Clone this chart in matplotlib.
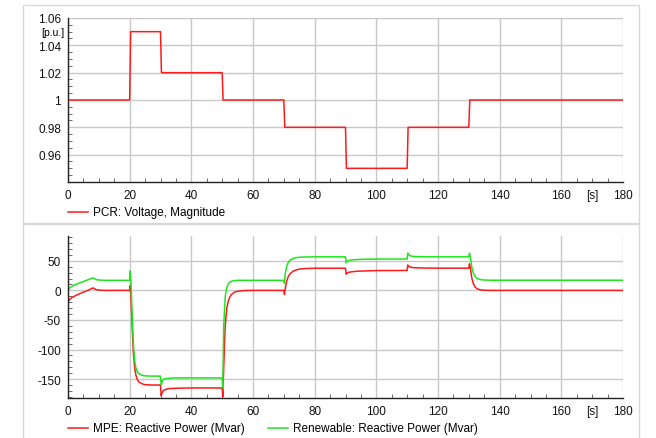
import matplotlib
matplotlib.use('Agg')
import matplotlib.pyplot as plt
from matplotlib.lines import Line2D
from matplotlib.patches import Rectangle
from matplotlib.ticker import MultipleLocator

plt.rcParams['font.family'] = ['Liberation Sans', 'DejaVu Sans']
plt.rcParams['font.size'] = 8.5
plt.rcParams['axes.unicode_minus'] = False

# PCR voltage set-point steps
t_v = [0, 20, 20.3, 30, 30.3, 50, 50.3, 70, 70.3, 90, 90.3, 110, 110.3, 130, 130.3, 180]
v_pcr = [1.0, 1.0, 1.05, 1.05, 1.02, 1.02, 1.0, 1.0, 0.98, 0.98, 0.95, 0.95, 0.98, 0.98, 1.0, 1.0]

# reactive power responses
t_q = [0, 0.3, 1, 2, 3, 4, 5, 6, 7, 8, 8.5, 9, 10, 12, 19.8,
       20, 20.15, 20.4, 20.8, 21.2, 21.6, 22.0, 22.5, 23, 24, 25, 27, 29.8,
       30, 30.2, 30.6, 31, 32, 33, 35, 40, 49.8,
       50, 50.2, 50.5, 51, 51.5, 52, 52.5, 53, 54, 55, 57, 60, 69.8,
       70, 70.2, 70.5, 71, 71.5, 72, 73, 74, 75, 77, 80, 89.8,
       90, 90.2, 90.6, 91, 92, 94, 97, 100, 109.8,
       110, 110.2, 110.6, 111, 112, 114, 117, 120, 129.8,
       130, 130.2, 130.5, 131, 131.5, 132, 132.5, 133, 134, 135, 137, 140, 180]
q_mpe = [-20, -17, -13, -10, -7.5, -5, -3, -1, 1.5, 4, 3.5, 1.5, 0.5, 0, 0,
         0, 8, -10, -60, -105, -130, -143, -151, -155, -158, -159.5, -160, -160,
         -160, -178, -172, -169, -167, -166, -165.5, -165, -165,
         -165, -180, -130, -60, -30, -18, -11, -7, -3, -1.5, -0.3, 0, 0,
         0, -7, 5, 17, 24, 28, 32.5, 34.5, 36, 37, 37.5, 37.5,
         37.5, 27.5, 29.5, 30.5, 31.5, 32.5, 33, 33.5, 33.7,
         33.7, 43, 40.5, 39.5, 38.5, 38, 37.7, 37.6, 37.6,
         37.6, 45, 38, 20, 11, 6, 3.5, 2, 0.7, 0.3, 0, 0, 0]
q_ren = [0, 3, 6, 9, 11, 13, 15, 17, 19, 21, 20.5, 18.5, 17.5, 17, 17,
         17, 33, 15, -40, -90, -118, -131, -138, -141, -143.5, -144.5, -145, -145,
         -145, -160, -153, -150, -149, -148.5, -148, -148, -148,
         -148, -165, -60, -10, 5, 11, 14, 15.5, 16.5, 17, 17, 17, 17,
         17, 12, 30, 42, 48, 51, 54, 55.5, 56, 56.5, 56.8, 56.8,
         56.8, 47, 49.5, 50.5, 51.5, 52.3, 52.8, 53, 53,
         53, 63, 60, 58.5, 57.5, 57, 56.8, 56.8, 56.8,
         56.8, 63, 56, 38, 29, 24, 21, 19.5, 18, 17.5, 17.2, 17.2, 17.2]

labels_top = ['PCR: Voltage, Magnitude']
labels_bot = ['MPE: Reactive Power (Mvar)', 'Renewable: Reactive Power (Mvar)']
c_red = '#ff1a1a'
c_green = '#1ee61e'

W, H = 656, 439
fig = plt.figure(figsize=(6.56, 4.39), dpi=100)

# panel frames
for y0, y1 in [(6, 224), (225, 445)]:
    fig.add_artist(Rectangle((23 / W, 1 - y1 / H), (639 - 23) / W, (y1 - y0) / H,
                             transform=fig.transFigure, fill=False,
                             edgecolor='#d8d8d8', linewidth=1))

ax1 = fig.add_axes([68 / W, 1 - 183 / H, (623 - 68) / W, (183 - 19) / H])
ax2 = fig.add_axes([68 / W, 1 - 399 / H, (623 - 68) / W, (399 - 237) / H])

ax1.plot(t_v, v_pcr, color=c_red, lw=1.1)
ax2.plot(t_q, q_mpe, color=c_red, lw=1.1)
ax2.plot(t_q, q_ren, color=c_green, lw=1.1)

ax1.set_ylim(0.94, 1.06)
ax1.yaxis.set_minor_locator(MultipleLocator(0.005))
ax1.set_yticks([0.96, 0.98, 1.0, 1.02, 1.04, 1.06])
ax1.set_yticklabels(['0.96', '0.98', '1', '1.02', '1.04', '1.06'])

ax2.set_ylim(-182, 92)
ax2.yaxis.set_major_locator(MultipleLocator(50))
ax2.yaxis.set_minor_locator(MultipleLocator(10))

for ax in (ax1, ax2):
    ax.set_xlim(0, 180)
    ax.xaxis.set_major_locator(MultipleLocator(20))
    ax.xaxis.set_minor_locator(MultipleLocator(5))
    ax.grid(True, which='major', color='#c8c8c8', lw=1)
    ax.set_axisbelow(True)
    for s in ('top', 'right'):
        ax.spines[s].set_visible(False)
    for s in ('left', 'bottom'):
        ax.spines[s].set_color('#222222')
        ax.spines[s].set_linewidth(1)
    ax.tick_params(which='major', length=0, pad=5, labelsize=8.5, colors='#111111')
    ax.tick_params(which='minor', direction='in', length=3, color='#555555', width=0.6)
    ax.annotate('[s]', xy=(170, 0), xycoords=('data', 'axes fraction'),
                xytext=(0, -5), textcoords='offset points', ha='center', va='top',
                fontsize=8.5, color='#111111')

fig.text(64 / W, 1 - 33 / H, '[p.u.]', ha='right', va='center', fontsize=7.5)

# legends
def legend_entry(x0, y, color, text):
    fig.add_artist(Line2D([x0 / W, (x0 + 20) / W], [1 - y / H, 1 - y / H],
                          color=color, lw=1.1, transform=fig.transFigure))
    fig.text((x0 + 25) / W, 1 - y / H, text, ha='left', va='center', fontsize=8.5)

legend_entry(68, 213, c_red, labels_top[0])
legend_entry(68, 429, c_red, labels_bot[0])
legend_entry(268, 429, c_green, labels_bot[1])

fig.savefig('out.png', dpi=100)
